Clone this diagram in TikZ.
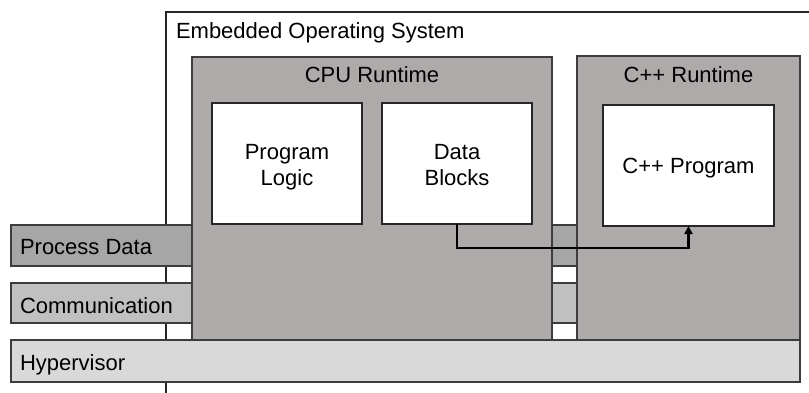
\documentclass[tikz,border=0pt]{standalone}
\usepackage{fontspec}
\setmainfont{Liberation Sans}
\usetikzlibrary{arrows.meta}
\definecolor{rtgray}{HTML}{AEAAA9}
\definecolor{pdgray}{HTML}{A6A6A6}
\definecolor{cmgray}{HTML}{C0C0C0}
\definecolor{hvgray}{HTML}{D9D9D9}
\definecolor{edge}{HTML}{3C3C3C}
\tikzset{
  lbl/.style={font=\fontsize{22}{26}\selectfont, inner sep=0pt, outer sep=0pt},
  bar/.style={draw=edge, line width=1.5pt, anchor=north west, inner sep=0pt, outer sep=0pt},
  runtime/.style={draw=edge, line width=1.5pt, fill=rtgray, anchor=north west, inner sep=0pt, outer sep=0pt},
  inbox/.style={draw=black!85, line width=1.5pt, fill=white, anchor=north west, inner sep=0pt, outer sep=0pt,
    font=\fontsize{22}{26}\selectfont, align=center},
  flow/.style={line width=2.6pt, -{Triangle[length=8pt,width=8pt]}}
}
\begin{document}
\begin{tikzpicture}[x=1pt,y=-1pt]
\useasboundingbox (0,0) rectangle (809,392);
% embedded OS outline (open to the right and bottom)
\coordinate (osbl) at (166,395);
\coordinate (ostl) at (166,12);
\coordinate (ostr) at (812,12);
\draw[line width=1.5pt, black!85] (osbl) -- (ostl) -- (ostr);
\node[lbl, anchor=base west] (oslbl) at (176,38) {Embedded Operating System};
% bars
\node[bar, fill=pdgray, minimum width=566pt, minimum height=41pt] (pd) at (11,225) {};
\node[bar, fill=cmgray, minimum width=566pt, minimum height=40pt] (cm) at (11,283) {};
\node[lbl, anchor=base west] (pdlbl) at (20,254) {Process Data};
\node[lbl, anchor=base west] (cmlbl) at (20,313) {Communication};
% runtimes
\node[runtime, minimum width=360pt, minimum height=283pt] (cpu) at (192,57) {};
\node[runtime, minimum width=223pt, minimum height=284pt] (cppr) at (577,56) {};
\node[lbl, anchor=base] (cpulbl) at (372,82) {CPU Runtime};
\node[lbl, anchor=base] (cpprlbl) at (688.5,82) {C++ Runtime};
% hypervisor
\node[bar, fill=hvgray, minimum width=789pt, minimum height=42pt] (hv) at (11,340) {};
\node[lbl, anchor=base west] (hvlbl) at (20,370) {Hypervisor};
% inner boxes
\node[inbox, minimum width=150pt, minimum height=121pt] (pl) at (212,103) {};
\node[inbox, minimum width=150pt, minimum height=121pt] (db) at (382,103) {};
\node[inbox, minimum width=171pt, minimum height=121pt] (cpp) at (603,105) {};
\node[lbl, align=center, anchor=base] (pltxt) at (287,185) {Program\\Logic};
\node[lbl, align=center, anchor=base] (dbtxt) at (457,185) {Data\\Blocks};
\node[lbl, anchor=base] (cpptxt) at (688.5,173) {C++ Program};
% connector
\draw[flow] (db.south) -- ++(0,24) -| (cpp.south);
\end{tikzpicture}
\end{document}
